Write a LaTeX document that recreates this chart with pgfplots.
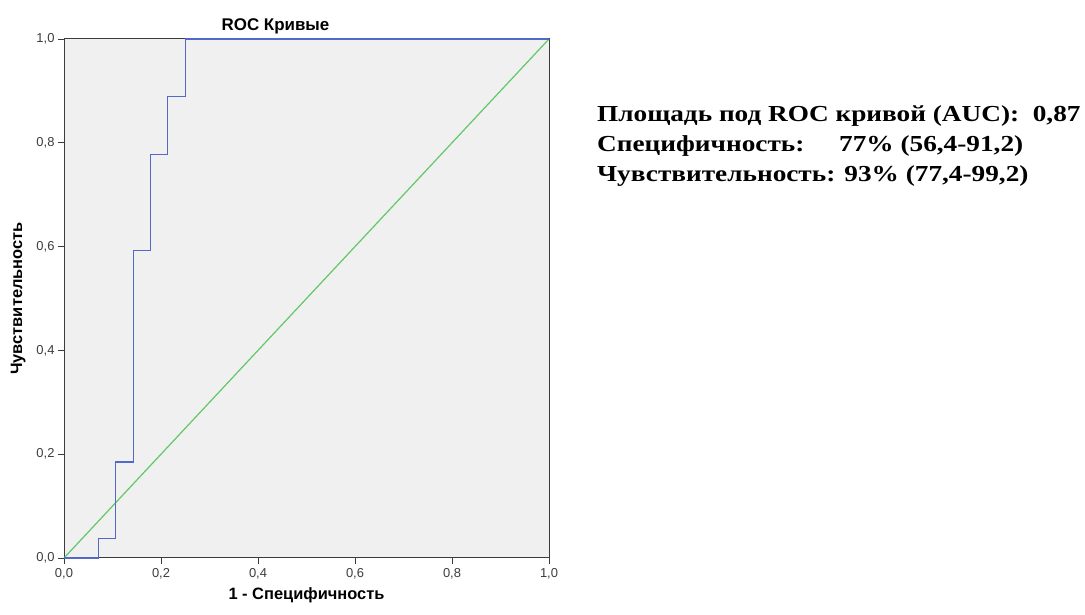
\documentclass[border=0pt]{standalone}
\usepackage{fontspec}
\setmainfont{Liberation Sans}
\newfontfamily\timesf{Liberation Serif}
\usepackage{graphicx}
\usepackage{pgfplots}
\pgfplotsset{compat=1.18}
\definecolor{rocblue}{RGB}{84,104,200}
\definecolor{rocgreen}{RGB}{96,200,104}
\definecolor{bggray}{RGB}{240,240,240}
\definecolor{axgray}{RGB}{60,60,60}
\begin{document}
\begin{tikzpicture}[x=1bp,y=1bp]
\useasboundingbox (0,0) rectangle (1085,615);
\begin{axis}[
  at={(64bp,57bp)}, anchor=south west,
  scale only axis, width=485bp, height=519bp,
  xmin=0, xmax=1, ymin=0, ymax=1,
  axis background/.style={fill=bggray},
  axis line style={axgray, line width=1pt},
  xtick={0,0.2,0.4,0.6,0.8,1}, ytick={0,0.2,0.4,0.6,0.8,1},
  tick align=outside, tick pos=left,
  major tick length=6bp,
  tick style={axgray, line width=0.8pt},
  /pgf/number format/.cd, use comma, fixed, fixed zerofill, precision=1, assume math mode=true,
  /pgfplots/.cd,
  tick label style={font=\fontsize{13}{15}\selectfont, text=axgray},
  xticklabel style={yshift=-1bp},
  title={\fontsize{17}{19}\selectfont\bfseries ROC Кривые},
  title style={xshift=-31bp, yshift=-5bp},
  xlabel={\fontsize{16.5}{19}\selectfont\bfseries 1 - Специфичность},
  ylabel={\fontsize{16.5}{19}\selectfont\bfseries Чувствительность},
  xlabel style={yshift=-2bp},
  ylabel style={yshift=4bp},
  clip=false,
]
\addplot[rocgreen, line width=1.2pt] coordinates {(0,0) (1,1)};
\addplot[rocblue, line width=1.1pt] coordinates {
  (0,0) (0.071,0) (0.071,0.037) (0.107,0.037) (0.107,0.185)
  (0.143,0.185) (0.143,0.593) (0.179,0.593) (0.179,0.778)
  (0.214,0.778) (0.214,0.889) (0.25,0.889) (0.25,1) (1,1)};
\end{axis}
\begin{scope}[every node/.style={anchor=base west, inner sep=0pt, font=\timesf\bfseries\fontsize{23}{26}\selectfont}]
\node at (597,493) {\scalebox{1.19}[1]{Площадь под ROC кривой (AUC):\ \ 0,87}};
\node at (597,463) {\scalebox{1.19}[1]{Специфичность:}};
\node at (839,463) {\scalebox{1.19}[1]{77\% (56,4-91,2)}};
\node at (597,433.5) {\scalebox{1.19}[1]{Чувствительность: 93\% (77,4-99,2)}};
\end{scope}
\end{tikzpicture}
\end{document}
